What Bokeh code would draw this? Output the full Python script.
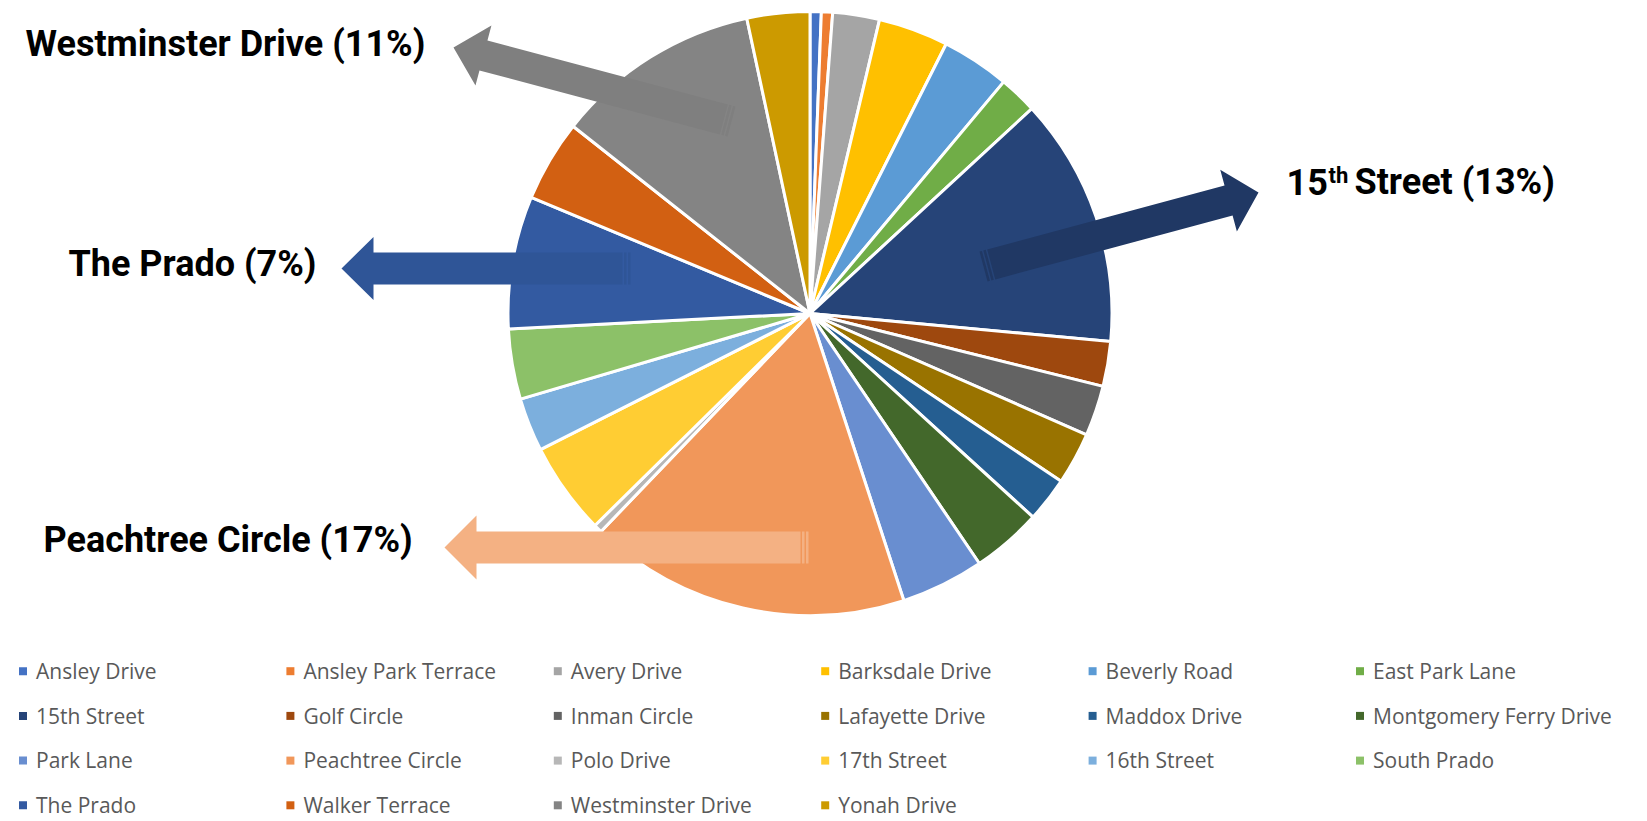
import math
from bokeh.plotting import figure
from bokeh.models import Range1d, ColumnDataSource
from bokeh.core.properties import value
from bokeh.embed import file_html
from bokeh.resources import INLINE

# ---------------- data ----------------
streets = ["Ansley Drive", "Ansley Park Terrace", "Avery Drive", "Barksdale Drive",
           "Beverly Road", "East Park Lane", "15th Street", "Golf Circle",
           "Inman Circle", "Lafayette Drive", "Maddox Drive", "Montgomery Ferry Drive",
           "Park Lane", "Peachtree Circle", "Polo Drive", "17th Street",
           "16th Street", "South Prado", "The Prado", "Walker Terrace",
           "Westminster Drive", "Yonah Drive"]
shares = [0.6, 0.6, 2.5, 3.75, 3.64, 2.05, 13.35, 2.4, 2.7, 2.8, 2.4, 3.75,
          4.45, 17.2, 0.45, 4.95, 2.86, 3.76, 7.1, 4.37, 11.0, 3.36]
colors = ["#4472C4", "#ED7D31", "#A5A5A5", "#FFC000", "#5B9BD5", "#70AD47",
          "#264478", "#9E480E", "#636363", "#997300", "#255E91", "#43682B",
          "#698ED0", "#F1975A", "#B7B7B7", "#FFCD33", "#7CAFDD", "#8CC168",
          "#335AA1", "#D26012", "#848484", "#CC9A00"]

# callouts: street, arrow colour
callout_streets = ["Westminster Drive", "15th Street", "The Prado", "Peachtree Circle"]
callout_colors = ["#7F7F7F", "#203864", "#2F5597", "#F4B183"]

# ---------------- layout (page pixel coordinates) ----------------
H = 821
FIG_W, FIG_H = 1647, 821
CX, CY, R = 809.5, 313.0, 302.0
# arrow tail, tip (page coords), shaft width, head width, head length
arrow_geom = [((731, 121), (453, 47), 31, 62, 31),
              ((983, 266), (1258, 192), 31, 64, 31),
              ((630, 268), (341, 268), 32, 63, 32),
              ((808, 547), (444, 547), 32, 64, 32)]
label_pos = [(25, 55), (1286, 193), (68, 275), (43, 551)]  # left, baseline
TEXT_SHIFT = 0.32  # em: compensates the renderer's baseline offset


def fy(y):
    return H - y


p = figure(width=FIG_W, height=FIG_H, output_backend="svg", toolbar_location=None,
           x_range=Range1d(0, FIG_W), y_range=Range1d(fy(FIG_H), fy(0)),
           min_border=0)
p.axis.visible = False
p.grid.visible = False
p.outline_line_color = None
p.background_fill_color = "white"

# ---------------- pie ----------------
total = sum(shares)
starts, ends = [], []
acc = 0.0
for s in shares:
    starts.append(math.pi / 2 - 2 * math.pi * acc / total)
    acc += s
    ends.append(math.pi / 2 - 2 * math.pi * acc / total)

src = ColumnDataSource(dict(name=streets, value=shares, color=colors,
                            start=starts, end=ends))
p.wedge(x=CX, y=fy(CY), radius=R, start_angle="start", end_angle="end",
        direction="clock", fill_color="color", line_color="white",
        line_width=3, source=src)

# ---------------- block arrows ----------------
for (tail, tip, w, hw, hl), col in zip(arrow_geom, callout_colors):
    tx, ty = tail[0], fy(tail[1])
    px, py = tip[0], fy(tip[1])
    L = math.hypot(px - tx, py - ty)
    ux, uy = (px - tx) / L, (py - ty) / L
    nx, ny = -uy, ux
    bx, by = px - hl * ux, py - hl * uy
    sx, sy = tx + 8 * ux, ty + 8 * uy
    xs = [sx + nx * w / 2, bx + nx * w / 2, bx + nx * hw / 2, px,
          bx - nx * hw / 2, bx - nx * w / 2, sx - nx * w / 2]
    ys = [sy + ny * w / 2, by + ny * w / 2, by + ny * hw / 2, py,
          by - ny * hw / 2, by - ny * w / 2, sy - ny * w / 2]
    p.patch(xs, ys, fill_color=col, line_color=None)
    # stripes at the tail
    for a, b in [(0, 2.5), (4, 6.5)]:
        ax, ay = tx + a * ux, ty + a * uy
        cx2, cy2 = tx + b * ux, ty + b * uy
        p.patch([ax + nx * w / 2, cx2 + nx * w / 2, cx2 - nx * w / 2, ax - nx * w / 2],
                [ay + ny * w / 2, cy2 + ny * w / 2, cy2 - ny * w / 2, ay - ny * w / 2],
                fill_color=col, line_color=None)

# ---------------- callout labels ----------------
LFONT = value("Roboto")
LSIZE = 36


def label(x, y, t, size=LSIZE):
    p.text(x=[x], y=[fy(y - TEXT_SHIFT * size)], text=[t], text_font=LFONT,
           text_font_style="bold", text_font_size=f"{size}px",
           text_color="black", text_baseline="alphabetic", text_align="left")


for st, (lx, ly) in zip(callout_streets, label_pos):
    pct = round(100 * shares[streets.index(st)] / total)
    if st == "15th Street":
        label(lx, ly, "15")
        label(lx + 42, ly - 11, "th", 22)
        label(lx + 68, ly, f"Street ({pct}%)")
    else:
        label(lx, ly, f"{st} ({pct}%)")

# ---------------- legend ----------------
COL0, COLSTEP = 22.5, 267.4
ROW0, ROWSTEP = 670.7, 44.7
LEG_SIZE = 21
lx_sq, ly_sq, lx_tx, ly_tx = [], [], [], []
for i in range(len(streets)):
    c, r = i % 6, i // 6
    x0 = COL0 + c * COLSTEP
    y0 = ROW0 + r * ROWSTEP
    lx_sq.append(x0)
    ly_sq.append(fy(y0))
    lx_tx.append(x0 + 13)
    ly_tx.append(fy(y0 + 6.5 - TEXT_SHIFT * LEG_SIZE))
lsrc = ColumnDataSource(dict(x=lx_sq, y=ly_sq, tx=lx_tx, ty=ly_tx,
                             name=streets, color=colors))
p.rect(x="x", y="y", width=8, height=8, fill_color="color", line_color=None,
       source=lsrc)
p.text(x="tx", y="ty", text="name", text_font=value("Open Sans"),
       text_font_size=f"{LEG_SIZE}px", text_color="#595959",
       text_baseline="alphabetic", text_align="left", source=lsrc)

open("out.html", "w").write(file_html(p, INLINE))
